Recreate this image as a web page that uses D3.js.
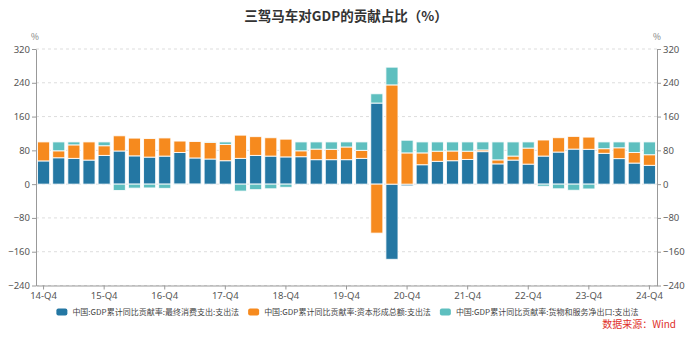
<!DOCTYPE html>
<html><head><meta charset="utf-8">
<script src="https://cdn.jsdelivr.net/npm/d3@7"></script>
<style>
html,body{margin:0;padding:0;background:#fff;}
svg{display:block;font-family:"Noto Sans CJK SC","Noto Sans",sans-serif;}
</style></head>
<body><svg id="chart" width="693" height="338"></svg>
<script>
const quarters = ["14-Q4","15-Q1","15-Q2","15-Q3","15-Q4","16-Q1","16-Q2","16-Q3","16-Q4","17-Q1","17-Q2","17-Q3","17-Q4","18-Q1","18-Q2","18-Q3","18-Q4","19-Q1","19-Q2","19-Q3","19-Q4","20-Q1","20-Q2","20-Q3","20-Q4","21-Q1","21-Q2","21-Q3","21-Q4","22-Q1","22-Q2","22-Q3","22-Q4","23-Q1","23-Q2","23-Q3","23-Q4","24-Q1","24-Q2","24-Q3","24-Q4"];
const consumption = [55,62.5,61,57,68,78.5,67,64,66.4,75,62,59.5,55.5,61,68,66.4,64.5,65,58,58,58,61,192,-178,-4,46,54,55.5,58.5,77,48,57,47.4,66.5,76,83,82.5,73,60.5,49.9,44.5];
const capital = [45,16.5,32,43,23,36,42,44,43,27,39,39.5,38.5,55,44.5,43.5,42,14,25,24.5,30,19,-116,235,74,28,24,23,19.5,4,9.5,9.5,38,38,34,30,28.9,11,25.6,25.1,25.2];
const netExports = [0,21,7,0,9,-15,-9.5,-9,-10,-2,-1,1,6,-16.5,-13,-11,-7.5,21,17,17.5,12,20,22,42,30,26,22,21.5,22,19,42.5,33.5,14.6,-5,-11,-14.5,-11.4,16,13.9,25,30.3];
const seriesNames = ["中国:GDP累计同比贡献率:最终消费支出:支出法","中国:GDP累计同比贡献率:资本形成总额:支出法","中国:GDP累计同比贡献率:货物和服务净出口:支出法"];
const colors = ["#2477a3","#f68a1e","#5ebfbf"];
const yTicks = [-240,-160,-80,0,80,160,240,320];
const xTickLabels = ["14-Q4","15-Q4","16-Q4","17-Q4","18-Q4","19-Q4","20-Q4","21-Q4","22-Q4","23-Q4","24-Q4"];
const title = "三驾马车对GDP的贡献占比（%）";
const source = "数据来源：Wind";

const svg = d3.select("#chart");
const mLeft = 36, mRight = 657, mTop = 49, mBottom = 285.5;
const keys = ["c","k","n"];
const rows = quarters.map((q,i)=>({q, c:consumption[i], k:capital[i], n:netExports[i]}));
const stack = d3.stack().keys(keys).offset(d3.stackOffsetDiverging)(rows);

const x = d3.scaleBand().domain(quarters).range([mLeft,mRight]).paddingInner(0.2).paddingOuter(0.1);
const y = d3.scaleLinear().domain([-240,320]).range([mBottom,mTop]);

// title
svg.append("text").attr("x",346).attr("y",20.5).attr("text-anchor","middle")
  .attr("font-size",13.5).attr("font-weight","bold").attr("fill","#333").text(title);

// grid
svg.append("g").selectAll("line").data(yTicks).join("line")
  .attr("x1",mLeft).attr("x2",mRight).attr("y1",d=>y(d)).attr("y2",d=>y(d))
  .attr("stroke","#ddd").attr("stroke-dasharray","3,3").attr("stroke-width",1);

// bars
svg.append("g").selectAll("g").data(stack).join("g")
  .attr("fill",(d,i)=>colors[i])
  .selectAll("rect").data(d=>d).join("rect")
  .attr("x",d=>x(d.data.q)).attr("width",x.bandwidth())
  .attr("y",d=>y(Math.max(d[0],d[1])))
  .attr("height",d=>Math.abs(y(d[0])-y(d[1])))
  .attr("stroke","#fff").attr("stroke-opacity",0.85).attr("stroke-width",1);

// axes
const axisColor = "#999", labelColor = "#555";
function styleAxis(g){
  g.select(".domain").attr("stroke",axisColor);
  g.selectAll(".tick line").attr("stroke",axisColor);
  g.selectAll(".tick text").attr("fill",labelColor).attr("font-size",9.5)
   .attr("font-family","'Noto Sans','Noto Sans CJK SC',sans-serif");
}
svg.append("g").attr("transform",`translate(${mLeft},0)`)
  .call(d3.axisLeft(y).tickValues(yTicks).tickSize(4).tickPadding(2).tickSizeOuter(0)).call(styleAxis);
svg.append("g").attr("transform",`translate(${mRight},0)`)
  .call(d3.axisRight(y).tickValues(yTicks).tickSize(4).tickPadding(2).tickSizeOuter(0)).call(styleAxis);
svg.append("g").attr("transform",`translate(0,${mBottom})`)
  .call(d3.axisBottom(x).tickValues(xTickLabels).tickSize(4).tickPadding(3).tickSizeOuter(0)).call(styleAxis);

// unit labels
svg.append("text").attr("x",35).attr("y",40).attr("text-anchor","middle").attr("font-size",8.5).attr("fill","#777").text("%");
svg.append("text").attr("x",657).attr("y",40).attr("text-anchor","middle").attr("font-size",8.5).attr("fill","#777").text("%");

// legend
const lg = svg.append("g");
let cx = 0;
seriesNames.forEach((name,i)=>{
  const g = lg.append("g");
  g.append("rect").attr("x",0).attr("y",-3.5).attr("width",11).attr("height",7).attr("rx",2).attr("fill",colors[i]);
  const t = g.append("text").attr("x",16).attr("y",2.8).attr("font-size",8).attr("fill","#444").text(name);
  const w = 16 + t.node().getComputedTextLength();
  g.attr("transform",`translate(${cx},0)`);
  cx += w + 9;
});
const totalW = cx - 9;
lg.attr("transform",`translate(${347.5 - totalW/2},312)`);

// source
svg.append("text").attr("x",676).attr("y",328).attr("text-anchor","end")
  .attr("font-size",10).attr("fill","#e0302a").text(source);
</script>
</body></html>
